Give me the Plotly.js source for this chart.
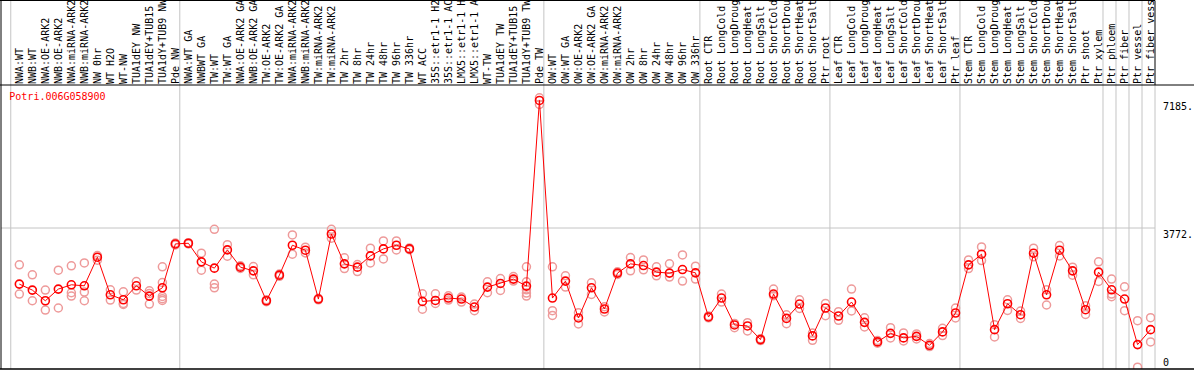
<!DOCTYPE html>
<html>
<head>
<meta charset="utf-8">
<script src="https://cdn.plot.ly/plotly-3.0.1.min.js"></script>
<style>
  html, body { margin: 0; padding: 0; background: #ffffff; }
  #chart { width: 1194px; height: 370px; }
</style>
</head>
<body>
<div id="chart"></div>
<script>
// ---- data ----
const geneName = 'Potri.006G058900';

const categories = [
  'NWA:WT', 'NWB:WT', 'NWA:OE-ARK2', 'NWB:OE-ARK2', 'NWA:miRNA-ARK2', 'NWB:miRNA-ARK2',
  'NW 0hr', 'WT H2O', 'WT-NW', 'TUA1dEY NW', 'TUA1dEY+TUB15 NW', 'TUA1dY+TUB9 NW', 'Pde NW',
  'NWA:WT GA', 'NWBWT GA', 'TW:WT', 'TW:WT GA', 'NWA:OE-ARK2 GA', 'NWB:OE-ARK2 GA',
  'TW:OE-ARK2', 'TW:OE-ARK2 GA', 'NWA:miRNA-ARK2 GA', 'NWB:miRNA-ARK2 GA', 'TW:miRNA-ARK2',
  'TW:miRNA-ARK2 GA', 'TW 2hr', 'TW 8hr', 'TW 24hr', 'TW 48hr', 'TW 96hr', 'TW 336hr',
  'WT ACC', '35S::etr1-1 H2O', '35S::etr1-1 ACC', 'LMX5::etr1-1 H2O', 'LMX5::etr1-1 ACC',
  'WT-TW', 'TUA1dEY TW', 'TUA1dEY+TUB15 TW', 'TUA1dY+TUB9 TW', 'Pde TW',
  'OW:WT', 'OW:WT GA', 'OW:OE-ARK2', 'OW:OE-ARK2 GA', 'OW:miRNA-ARK2', 'OW:miRNA-ARK2 GA',
  'OW 2hr', 'OW 8hr', 'OW 24hr', 'OW 48hr', 'OW 96hr', 'OW 336hr',
  'Root CTR', 'Root LongCold', 'Root LongDrought', 'Root LongHeat', 'Root LongSalt',
  'Root ShortCold', 'Root ShortDrought', 'Root ShortHeat', 'Root ShortSalt', 'Ptr root',
  'Leaf CTR', 'Leaf LongCold', 'Leaf LongDrought', 'Leaf LongHeat', 'Leaf LongSalt',
  'Leaf ShortCold', 'Leaf ShortDrought', 'Leaf ShortHeat', 'Leaf ShortSalt', 'Ptr leaf',
  'Stem CTR', 'Stem LongCold', 'Stem LongDrought', 'Stem LongHeat', 'Stem LongSalt',
  'Stem ShortCold', 'Stem ShortDrought', 'Stem ShortHeat', 'Stem ShortSalt', 'Ptr shoot',
  'Ptr xylem', 'Ptr phloem', 'Ptr fiber', 'Ptr vessel', 'Ptr fiber vessel'
];

const meanValues = [
  2271, 2111, 1826, 2138, 2253, 2226, 2991, 1986, 1853, 2226, 1951, 2173, 3346,
  3364, 2866, 2698, 3186, 2725, 2626, 1826, 2511, 3311, 3178, 1871, 3612, 2813, 2725,
  3026, 3213, 3311, 3213, 1808, 1834, 1898, 1871, 1658, 2191, 2288, 2405, 2218, 7185,
  1898, 2351, 1365, 2173, 1605, 2565, 2813, 2767, 2591, 2565, 2661, 2573,
  1392, 1898, 1178, 1152, 786, 2005, 1354, 1738, 885, 1632,
  1418, 1792, 1248, 725, 954, 832, 874, 634, 992, 1498,
  2786, 3071, 1053, 1746, 1453, 3098, 1986, 3178, 2626, 1586, 2591,
  2119, 1871, 653, 1053
];

const replicates = [
  [2786, 2005], [2519, 1826], [2111, 1578], [2645, 1632], [2759, 2040, 1951],
  [2839, 2058, 1826], [3034, 2911], [2119, 1845], [2066, 1754, 1728], [2341, 2111],
  [2093, 2021, 1738], [2733, 2314, 1941, 1834, 1880], [3370, 3320],
  [3380, 3345], [3098, 2645], [3738, 2271, 2173], [3327, 3018], [2760, 2690],
  [2741, 2519], [1850, 1800], [2540, 2480], [3586, 3071], [3258, 3106], [1890, 1850],
  [3738, 3500], [2973, 2687], [2794, 2607], [3231, 2839], [3426, 2946], [3426, 3186],
  [3240, 3190], [2013, 1601], [2013, 1754], [1960, 1845], [1925, 1792], [1738, 1560],
  [2333, 2040], [2421, 2101], [2474, 2351], [2733, 2333, 2119, 2031, 1951], [7257, 7078],
  [2733, 1560, 1434], [2493, 2191], [1506, 1205], [2306, 1994], [1666, 1525], [2600, 2530],
  [2981, 2626], [2919, 2653], [2733, 2493], [2813, 2458], [3053, 2351], [2751, 2405],
  [1420, 1370], [2005, 1792], [1220, 1106], [1240, 1018], [810, 760], [2138, 1960],
  [1450, 1213], [1853, 1621], [960, 768], [1754, 1426],
  [1533, 1301], [2138, 1552], [1370, 1125], [760, 690], [1106, 832], [965, 752],
  [938, 805], [680, 600], [1088, 893], [1632, 1365],
  [2919, 2687], [3266, 2901], [1186, 858], [1853, 1568], [1550, 1354], [3231, 3000],
  [2119, 1712], [3301, 3026], [2725, 2511], [1693, 1461], [2866, 2341],
  [2405, 2005, 1933], [2199, 1560], [1293, 48], [1373, 725]
];

// first category index of each group (separators are drawn before them)
const groupStarts = [0, 13, 41, 53, 63, 73, 84, 85, 86, 87];

const yLabelValues = [7185, 3772, 0];
const yLabelTexts = ['7185.', '3772.', '0'];
const gridValue = 3772;

// ---- build traces ----
const idx = categories.map((_, i) => i);
const repX = [], repY = [];
replicates.forEach((arr, i) => arr.forEach(v => { repX.push(i); repY.push(v); }));

const MONO = 'DejaVu Sans Mono, monospace';

const traces = [
  {
    x: repX, y: repY, type: 'scatter', mode: 'markers',
    marker: { symbol: 'circle-open', size: 8, color: '#ee9a9a', line: { width: 1.5, color: '#ee9a9a' } },
    hoverinfo: 'y', showlegend: false
  },
  {
    x: idx, y: meanValues, type: 'scatter', mode: 'lines+markers',
    line: { color: '#ff0000', width: 1 },
    marker: { symbol: 'circle-open', size: 8, color: '#ff0000', line: { width: 1.6, color: '#ff0000' } },
    hoverinfo: 'y', showlegend: false
  }
];

const W = 1194, H = 370;
const M = { l: 1, r: 39, t: 85, b: 1 };
const plotH = H - M.t - M.b;
const plotW = W - M.l - M.r;
const topPaper = (H - M.b - 0.5) / plotH;   // paper y of the very top pixel row
const leftPaper = -M.l / plotW;
const rightPaper = (W - M.l) / plotW;

const shapes = [];
// group separators (gray, full height through label area)
groupStarts.forEach(k => {
  shapes.push({ type: 'line', xref: 'x', yref: 'paper', x0: k - 0.66, x1: k - 0.66, y0: 0, y1: topPaper,
    line: { color: '#c4c4c4', width: 1 }, layer: 'below' });
});
// right edge of plot (gray in plot, black in label area)
shapes.push({ type: 'line', xref: 'paper', yref: 'paper', x0: 1, x1: 1, y0: 0, y1: 1,
  line: { color: '#c4c4c4', width: 1 }, layer: 'below' });
shapes.push({ type: 'line', xref: 'paper', yref: 'paper', x0: 1, x1: 1, y0: 1, y1: topPaper,
  line: { color: '#000000', width: 1 } });
// horizontal grid line
shapes.push({ type: 'line', xref: 'paper', yref: 'y', x0: 0, x1: 1, y0: gridValue, y1: gridValue,
  line: { color: '#c4c4c4', width: 1 }, layer: 'below' });
// black frame lines
shapes.push({ type: 'line', xref: 'paper', yref: 'paper', x0: leftPaper, x1: rightPaper, y0: 1, y1: 1,
  line: { color: '#000000', width: 1 } });
shapes.push({ type: 'line', xref: 'paper', yref: 'paper', x0: leftPaper, x1: rightPaper, y0: 0, y1: 0,
  line: { color: '#000000', width: 1.5 } });
shapes.push({ type: 'line', xref: 'paper', yref: 'paper', x0: leftPaper, x1: 1, y0: topPaper, y1: topPaper,
  line: { color: '#000000', width: 1 } });
shapes.push({ type: 'line', xref: 'paper', yref: 'paper', x0: 0, x1: 0, y0: 0, y1: topPaper,
  line: { color: '#000000', width: 1 } });

const annotations = yLabelValues.map((v, i) => ({
  xref: 'paper', yref: 'y', x: 1, y: v, xanchor: 'left',
  yanchor: v === 0 ? 'bottom' : 'top',
  xshift: 6, yshift: v === 0 ? -1 : 1,
  text: yLabelTexts[i], showarrow: false,
  font: { family: MONO, size: 10, color: '#000000' }
}));

const layout = {
  width: W, height: H,
  margin: M,
  paper_bgcolor: '#ffffff', plot_bgcolor: '#ffffff',
  showlegend: false,
  title: {
    text: geneName, font: { family: MONO, size: 10, color: '#ff0000' },
    xref: 'paper', yref: 'paper', x: 0.0072, xanchor: 'left', y: 0.958, yanchor: 'middle'
  },
  xaxis: {
    range: [-1.41, 87.34], side: 'top',
    tickmode: 'array', tickvals: idx, ticktext: categories,
    tickangle: -90, ticks: '', showgrid: false, zeroline: false, showline: false,
    tickfont: { family: MONO, size: 10, color: '#000000' }
  },
  yaxis: {
    range: [0, 7598], showticklabels: false, ticks: '', showgrid: false, zeroline: false, showline: false
  },
  shapes: shapes,
  annotations: annotations
};

Plotly.newPlot('chart', traces, layout, { displayModeBar: false, staticPlot: true });
</script>
</body>
</html>
